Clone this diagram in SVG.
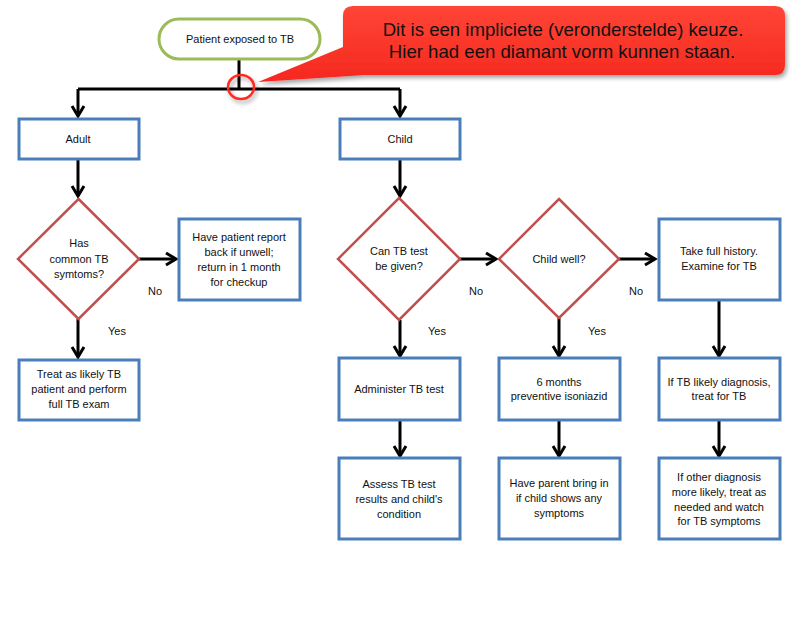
<svg xmlns="http://www.w3.org/2000/svg" width="800" height="638" viewBox="0 0 800 638">
<style>
.box{fill:#fff;stroke:#4a7ebb;stroke-width:3}
.dia{fill:#fff;stroke:#c0504d;stroke-width:2.5}
.pill{fill:#fff;stroke:#9bbb59;stroke-width:3}
.t{font-family:"Liberation Sans",Arial,sans-serif;font-size:11px;fill:#111;text-anchor:middle}
.c{font-family:"Liberation Sans",Arial,sans-serif;font-size:18.6px;fill:#111;text-anchor:middle}
.con{fill:none;stroke:#000;stroke-width:3;marker-end:url(#ah)}
.ln{fill:none;stroke:#000;stroke-width:3}
</style>
<defs>
<marker id="ah" markerUnits="userSpaceOnUse" markerWidth="16" markerHeight="16" viewBox="-12 -8 14 16" refX="0" refY="0" orient="auto">
<path d="M-10,-6 L0,0 L-10,6" fill="none" stroke="#000" stroke-width="3"/>
</marker>
<linearGradient id="rg" x1="0" y1="0" x2="0" y2="1">
<stop offset="0" stop-color="#ff4536"/>
<stop offset="1" stop-color="#f5281f"/>
</linearGradient>
<filter id="sh" x="-10%" y="-20%" width="130%" height="160%">
<feDropShadow dx="2" dy="3" stdDeviation="2" flood-color="#000" flood-opacity="0.35"/>
</filter>
</defs>
<rect width="800" height="638" fill="#fff"/>
<g id="connectors">
<path class="ln" d="M239,60 V89"/>
<path class="ln" d="M78,89 H400"/>
<path class="con" d="M78,89 V116"/>
<path class="con" d="M400,89 V116"/>
<path class="con" d="M78,160 V196"/>
<path class="con" d="M139,259 H176"/>
<path class="con" d="M78,319 V357"/>
<path class="con" d="M400,160 V196"/>
<path class="con" d="M460,259 H496"/>
<path class="con" d="M400,320 V356"/>
<path class="con" d="M619,259 H655"/>
<path class="con" d="M559,318 V356"/>
<path class="con" d="M719,300 V356"/>
<path class="con" d="M400,420 V456"/>
<path class="con" d="M559,420 V456"/>
<path class="con" d="M719,420 V456"/>
</g>
<g id="start">
<rect class="pill" x="159" y="19" width="161" height="40" rx="20"/>
<text class="t" x="240" y="43">Patient exposed to TB</text>
</g>
<g id="adult">
<rect class="box" x="19" y="119" width="120" height="40"/>
<text class="t" x="78" y="143">Adult</text>
</g>
<g id="child">
<rect class="box" x="340" y="119" width="120" height="40"/>
<text class="t" x="400" y="143">Child</text>
</g>
<g id="d1">
<polygon class="dia" points="78.5,199 139,259 78.5,319 18,259"/>
<text class="t" x="79" y="247">Has</text>
<text class="t" x="79" y="263">common TB</text>
<text class="t" x="79" y="278">symtoms?</text>
</g>
<g id="report">
<rect class="box" x="179" y="219" width="121" height="81"/>
<text class="t" x="239" y="241">Have patient report</text>
<text class="t" x="239" y="256">back if unwell;</text>
<text class="t" x="239" y="271">return in 1 month</text>
<text class="t" x="239" y="286">for checkup</text>
</g>
<g id="treat">
<rect class="box" x="19" y="360" width="120" height="60"/>
<text class="t" x="79" y="378">Treat as likely TB</text>
<text class="t" x="79" y="393">patient and perform</text>
<text class="t" x="79" y="408">full TB exam</text>
</g>
<g id="d2">
<polygon class="dia" points="399,198 460,259 399,320 338,259"/>
<text class="t" x="399" y="255">Can TB test</text>
<text class="t" x="399" y="270">be given?</text>
</g>
<g id="d3">
<polygon class="dia" points="559,199 619,259 559,318 499,259"/>
<text class="t" x="559" y="263">Child well?</text>
</g>
<g id="history">
<rect class="box" x="659" y="219" width="121" height="81"/>
<text class="t" x="719" y="255">Take full history.</text>
<text class="t" x="719" y="270">Examine for TB</text>
</g>
<g id="administer">
<rect class="box" x="339" y="358" width="121" height="62"/>
<text class="t" x="399" y="393">Administer TB test</text>
</g>
<g id="isoniazid">
<rect class="box" x="499" y="358" width="121" height="62"/>
<text class="t" x="559" y="386">6 months</text>
<text class="t" x="559" y="400">preventive isoniazid</text>
</g>
<g id="likely">
<rect class="box" x="659" y="358" width="121" height="62"/>
<text class="t" x="719" y="386">If TB likely diagnosis,</text>
<text class="t" x="719" y="400">treat for TB</text>
</g>
<g id="assess">
<rect class="box" x="339" y="458" width="121" height="81"/>
<text class="t" x="399" y="488">Assess TB test</text>
<text class="t" x="399" y="503">results and child's</text>
<text class="t" x="399" y="518">condition</text>
</g>
<g id="parent">
<rect class="box" x="499" y="458" width="121" height="81"/>
<text class="t" x="559" y="487">Have parent bring in</text>
<text class="t" x="559" y="502">if child shows any</text>
<text class="t" x="559" y="517">symptoms</text>
</g>
<g id="other">
<rect class="box" x="659" y="458" width="121" height="81"/>
<text class="t" x="719" y="481">If other diagnosis</text>
<text class="t" x="719" y="496">more likely, treat as</text>
<text class="t" x="719" y="511">needed and watch</text>
<text class="t" x="719" y="525">for TB symptoms</text>
</g>
<g id="labels">
<text class="t" x="155" y="295">No</text>
<text class="t" x="117" y="335">Yes</text>
<text class="t" x="476" y="295">No</text>
<text class="t" x="437" y="335">Yes</text>
<text class="t" x="636" y="295">No</text>
<text class="t" x="597" y="335">Yes</text>
</g>
<g id="highlight">
<ellipse cx="241" cy="87" rx="13" ry="12" fill="none" stroke="#ff2a20" stroke-width="2.5" filter="url(#sh)"/>
</g>
<g id="callout">
<path d="M353,6 H775 Q785,6 785,16 V65 Q785,75 775,75 H365 L258,82 L343,47 V16 Q343,6 353,6 Z" fill="url(#rg)" filter="url(#sh)"/>
<text class="c" x="563" y="36">Dit is een impliciete (veronderstelde) keuze.</text>
<text class="c" x="562" y="58">Hier had een diamant vorm kunnen staan.</text>
</g>
</svg>
